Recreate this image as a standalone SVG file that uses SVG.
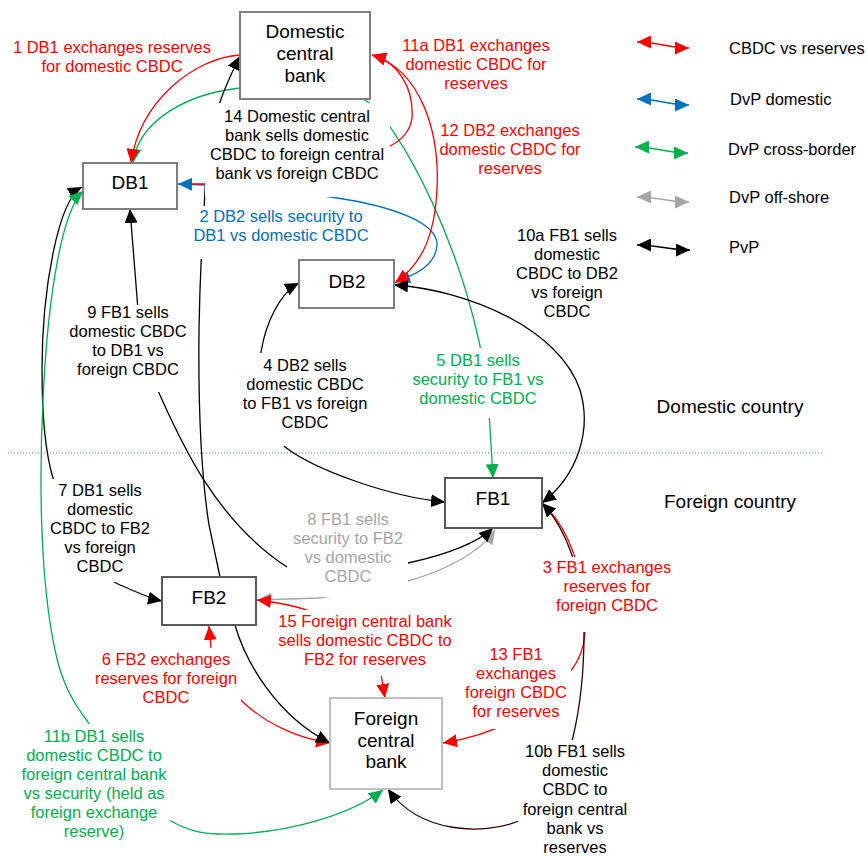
<svg xmlns="http://www.w3.org/2000/svg" width="868" height="856" viewBox="0 0 868 856">
<style>
text{font-family:"Liberation Sans",Arial,sans-serif}
.lb{font-size:16.5px;text-anchor:middle}
.nt{font-size:19px;text-anchor:middle;fill:#000}
.lg{font-size:16.5px;fill:#000}
.rg{font-size:19px;text-anchor:middle;fill:#000}
.c{fill:none;stroke-width:1.3}
.k{stroke:#000}.r{stroke:#FF0000}.b{stroke:#0070C0}.g{stroke:#00B050}.y{stroke:#A6A6A6}.d{stroke:#300000}
.box{fill:#fff;stroke-width:2}
.bg{fill:#fff}
.tr{fill:#FF0000}.tb{fill:#0070C0}.tg{fill:#00B050}.ty{fill:#A6A6A6}.tk{fill:#000}
</style>
<defs>
<marker id="mR" viewBox="0 0 14 13" refX="14" refY="6.5" markerWidth="14" markerHeight="13" markerUnits="userSpaceOnUse" orient="auto-start-reverse"><path d="M0,0L14,6.5L0,13z" fill="#FF0000"/></marker>
<marker id="mB" viewBox="0 0 14 13" refX="14" refY="6.5" markerWidth="14" markerHeight="13" markerUnits="userSpaceOnUse" orient="auto-start-reverse"><path d="M0,0L14,6.5L0,13z" fill="#0070C0"/></marker>
<marker id="mG" viewBox="0 0 14 13" refX="14" refY="6.5" markerWidth="14" markerHeight="13" markerUnits="userSpaceOnUse" orient="auto-start-reverse"><path d="M0,0L14,6.5L0,13z" fill="#00B050"/></marker>
<marker id="mY" viewBox="0 0 14 13" refX="14" refY="6.5" markerWidth="14" markerHeight="13" markerUnits="userSpaceOnUse" orient="auto-start-reverse"><path d="M0,0L14,6.5L0,13z" fill="#A6A6A6"/></marker>
<marker id="mK" viewBox="0 0 14 13" refX="14" refY="6.5" markerWidth="14" markerHeight="13" markerUnits="userSpaceOnUse" orient="auto-start-reverse"><path d="M0,0L14,6.5L0,13z" fill="#000"/></marker>
</defs>
<rect width="868" height="856" fill="#fff"/>
<line x1="8" y1="453" x2="822" y2="453" stroke="#4472C4" stroke-width="1" stroke-dasharray="1,2"/>
<g id="connectors">
<path class="c g" marker-start="url(#mG)" marker-end="url(#mG)" d="M133,163 C138,122 185,94 240,88 C290,84 340,86 365,100 C395,117 472,255 488,395 L493,478"/>
<path class="c r" marker-end="url(#mR)" d="M240,55 C195,58 140,100 131,163"/>
<path class="c r" marker-start="url(#mR)" marker-end="url(#mR)" d="M209,626 L211,648 C220,672 232,692 245,704 C265,722 295,738 330,743"/>
<path class="c k" marker-start="url(#mK)" marker-end="url(#mK)" d="M240,56 C232,72 222,92 216,115 C210,140 205,175 204,210 C202,240 200,270 199,330 C198,420 202,480 209,525 L220,577 L235,625 C245,660 275,715 330,743"/>
<path class="c b" marker-start="url(#mB)" marker-end="url(#mB)" d="M178,184 C260,186 300,192 337,198 C390,206 438,222 437,245 C436,262 420,274 396,281"/>
<path class="c r" marker-end="url(#mR)" d="M543,504 C566,525 587,570 585,633 C584,650 578,662 570,672 C545,705 505,733 443,743"/>
<path class="c k" marker-start="url(#mK)" marker-end="url(#mK)" d="M394,285 C470,290 560,330 580,390 C592,430 578,475 542,503"/>
<path class="c r" marker-start="url(#mR)" d="M372,55 C398,62 414,88 412,118 C410,132 400,141 390,146 C340,170 250,184 205,184 L192,184"/>
<path class="c r" marker-start="url(#mR)" marker-end="url(#mR)" d="M372,55 C420,70 440,130 437,190 C435,230 425,262 395,283"/>
<path class="c y" marker-start="url(#mY)" marker-end="url(#mY)" d="M257,600 L318,598 C350,594 380,588 408,581 C440,572 478,555 495,530"/>
<path class="c k" marker-start="url(#mK)" marker-end="url(#mK)" d="M130,209 L138,310 C145,350 150,375 159,393 C180,440 215,520 287,567 C330,595 380,575 408,563 C440,556 475,545 493,528"/>
<path class="c r" marker-start="url(#mR)" marker-end="url(#mR)" d="M257,600 C275,602 295,606 310,611 C345,625 378,650 382,680 L385,698"/>
<path class="c k" marker-start="url(#mK)" marker-end="url(#mK)" d="M299,283 C280,293 266,322 261,352 C258,380 262,420 285,447 C315,470 390,497 445,502"/>
<path class="c k" marker-start="url(#mK)" marker-end="url(#mK)" d="M82,187 C58,200 42,290 42,370 C42,420 46,455 53,478 C70,530 95,575 120,585 C135,591 148,598 162,601"/>
<path class="c g" marker-start="url(#mG)" marker-end="url(#mG)" d="M83,191 C63,210 48,290 43,400 C39,480 40,580 55,650 C62,685 75,705 88,722 C110,760 140,805 169,820 C190,832 205,835 235,834 C290,832 350,815 383,790"/>
<path class="c d" marker-start="url(#mK)" marker-end="url(#mK)" d="M542,503 C564,526 584,570 584,633 C584,680 579,712 573,737 C560,790 540,815 516,822 C485,834 420,835 388,789"/>
</g>
<g id="labels">
<g id="l1"><text class="lb tr"><tspan x="112" y="53">1 DB1 exchanges reserves</tspan><tspan x="112" y="72">for domestic CBDC</tspan></text></g>
<g id="l11a"><text class="lb tr"><tspan x="476" y="51">11a DB1 exchanges</tspan><tspan x="476" y="70">domestic CBDC for</tspan><tspan x="476" y="89">reserves</tspan></text></g>
<g id="l12"><text class="lb tr"><tspan x="510" y="136">12 DB2 exchanges</tspan><tspan x="510" y="155">domestic CBDC for</tspan><tspan x="510" y="174">reserves</tspan></text></g>
<g id="l14"><rect class="bg" x="205" y="103" width="185" height="94"/><text class="lb tk"><tspan x="297" y="122">14 Domestic central</tspan><tspan x="297" y="141">bank sells domestic</tspan><tspan x="297" y="160">CBDC to foreign central</tspan><tspan x="297" y="179">bank vs foreign CBDC</tspan></text></g>
<g id="l2"><rect class="bg" x="188" y="206" width="182" height="53"/><text class="lb tb"><tspan x="281" y="222">2 DB2 sells security to</tspan><tspan x="281" y="241">DB1 vs domestic CBDC</tspan></text></g>
<g id="l10a"><text class="lb tk"><tspan x="567" y="241">10a FB1 sells</tspan><tspan x="567" y="260">domestic</tspan><tspan x="567" y="279">CBDC to DB2</tspan><tspan x="567" y="298">vs foreign</tspan><tspan x="567" y="317">CBDC</tspan></text></g>
<g id="l9"><rect class="bg" x="66" y="305" width="126" height="87"/><text class="lb tk"><tspan x="128" y="318">9 FB1 sells</tspan><tspan x="128" y="337">domestic CBDC</tspan><tspan x="128" y="356">to DB1 vs</tspan><tspan x="128" y="375">foreign CBDC</tspan></text></g>
<g id="l4"><rect class="bg" x="240" y="353" width="130" height="93"/><text class="lb tk"><tspan x="305" y="371">4 DB2 sells</tspan><tspan x="305" y="390">domestic CBDC</tspan><tspan x="305" y="409">to FB1 vs foreign</tspan><tspan x="305" y="428">CBDC</tspan></text></g>
<g id="l5"><rect class="bg" x="410" y="348" width="136" height="70"/><text class="lb tg"><tspan x="478" y="366">5 DB1 sells</tspan><tspan x="478" y="385">security to FB1 vs</tspan><tspan x="478" y="404">domestic CBDC</tspan></text></g>
<g id="l7"><rect class="bg" x="49" y="479" width="107" height="103"/><text class="lb tk"><tspan x="100" y="496">7 DB1 sells</tspan><tspan x="100" y="515">domestic</tspan><tspan x="100" y="534">CBDC to FB2</tspan><tspan x="100" y="553">vs foreign</tspan><tspan x="100" y="572">CBDC</tspan></text></g>
<g id="l8"><rect class="bg" x="287" y="508" width="121" height="89"/><text class="lb ty"><tspan x="348" y="525">8 FB1 sells</tspan><tspan x="348" y="544">security to FB2</tspan><tspan x="348" y="563">vs domestic</tspan><tspan x="348" y="582">CBDC</tspan></text></g>
<g id="l3"><rect class="bg" x="541" y="557" width="134" height="75"/><text class="lb tr"><tspan x="607" y="573">3 FB1 exchanges</tspan><tspan x="607" y="592">reserves for</tspan><tspan x="607" y="611">foreign CBDC</tspan></text></g>
<g id="l15"><rect class="bg" x="275" y="610" width="181" height="66"/><text class="lb tr"><tspan x="365" y="627">15 Foreign central bank</tspan><tspan x="365" y="646">sells domestic CBDC to</tspan><tspan x="365" y="665">FB2 for reserves</tspan></text></g>
<g id="l6"><rect class="bg" x="93" y="648" width="148" height="58"/><text class="lb tr"><tspan x="166" y="665">6 FB2 exchanges</tspan><tspan x="166" y="684">reserves for foreign</tspan><tspan x="166" y="703">CBDC</tspan></text></g>
<g id="l13"><rect class="bg" x="460" y="643" width="111" height="86"/><text class="lb tr"><tspan x="516" y="660">13 FB1</tspan><tspan x="516" y="679">exchanges</tspan><tspan x="516" y="698">foreign CBDC</tspan><tspan x="516" y="717">for reserves</tspan></text></g>
<g id="l10b"><rect class="bg" x="518" y="740" width="114" height="116"/><text class="lb tk"><tspan x="575" y="757">10b FB1 sells</tspan><tspan x="575" y="776">domestic</tspan><tspan x="575" y="795">CBDC to</tspan><tspan x="575" y="815">foreign central</tspan><tspan x="575" y="834">bank vs</tspan><tspan x="575" y="853">reserves</tspan></text></g>
<g id="l11b"><rect class="bg" x="18" y="724" width="152" height="121"/><text class="lb tg"><tspan x="94" y="742">11b DB1 sells</tspan><tspan x="94" y="761">domestic CBDC to</tspan><tspan x="94" y="780">foreign central bank</tspan><tspan x="94" y="799">vs security (held as</tspan><tspan x="94" y="818">foreign exchange</tspan><tspan x="94" y="837">reserve)</tspan></text></g>
<text class="rg" x="730" y="413">Domestic country</text>
<text class="rg" x="730" y="508">Foreign country</text>
</g>
<g id="node-dcb"><rect class="box" x="240" y="12" width="130" height="87" stroke="#7F7F7F"/><text class="nt"><tspan x="305" y="38">Domestic</tspan><tspan x="305" y="60">central</tspan><tspan x="305" y="82">bank</tspan></text></g>
<g id="node-db1"><rect class="box" x="83" y="163" width="94" height="46" stroke="#7F7F7F"/><text class="nt" x="130" y="189">DB1</text></g>
<g id="node-db2"><rect class="box" x="299" y="260" width="95" height="48" stroke="#7F7F7F"/><text class="nt" x="347" y="288">DB2</text></g>
<g id="node-fb1"><rect class="box" x="445" y="478" width="97" height="50" stroke="#595959"/><text class="nt" x="493" y="505">FB1</text></g>
<g id="node-fb2"><rect class="box" x="162" y="577" width="94" height="48" stroke="#595959"/><text class="nt" x="209" y="604">FB2</text></g>
<g id="node-fcb"><rect class="box" x="330" y="698" width="112" height="91" stroke="#BFBFBF"/><text class="nt"><tspan x="386" y="725">Foreign</tspan><tspan x="386" y="747">central</tspan><tspan x="386" y="768">bank</tspan></text></g>
<g id="legend">
<path class="c r" marker-start="url(#mR)" marker-end="url(#mR)" d="M637,42 C660,42 666,48 689,48"/>
<text class="lg" x="729" y="54">CBDC vs reserves</text>
<path class="c b" marker-start="url(#mB)" marker-end="url(#mB)" d="M637,99 C660,99 666,105 689,105"/>
<text class="lg" x="730" y="105">DvP domestic</text>
<path class="c g" marker-start="url(#mG)" marker-end="url(#mG)" d="M635,147 C658,147 665,153 688,153"/>
<text class="lg" x="728" y="155">DvP cross-border</text>
<path class="c y" marker-start="url(#mY)" marker-end="url(#mY)" d="M637,197 C660,197 666,202 689,202"/>
<text class="lg" x="729" y="203">DvP off-shore</text>
<path class="c k" marker-start="url(#mK)" marker-end="url(#mK)" d="M637,245 C660,245 667,250 690,250"/>
<text class="lg" x="729" y="253">PvP</text>
</g>
</svg>
